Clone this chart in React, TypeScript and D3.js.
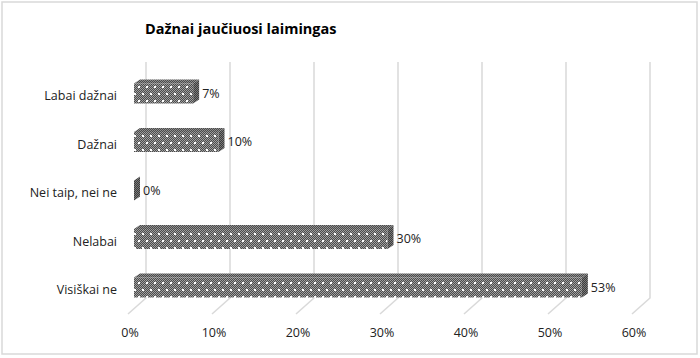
import React from "react";
import * as d3 from "d3";

const categories = ["Labai dažnai", "Dažnai", "Nei taip, nei ne", "Nelabai", "Visiškai ne"];
const values = [7, 10, 0, 30, 53];
const ticks = [0, 10, 20, 30, 40, 50, 60];
const title = "Dažnai jaučiuosi laimingas";

const W = 700;
const H = 358;
const FONT = "'Open Sans', Lato, sans-serif";

export default function App() {
  const xBack = d3.scaleLinear().domain([0, 60]).range([146, 650]);
  const xBar = d3.scaleLinear().domain([0, 60]).range([134, 641]);
  const y = d3.scalePoint<string>().domain(categories).range([93.5, 287.5]);
  const gridTop = 62;
  const gridBottom = 298;
  const fdx = -18;
  const fdy = 16;
  const dx = 6;
  const dy = -4;
  const h = 20;

  const checker = (w: number, hh: number, keyp: string, fill: string) =>
    d3.range(0, w).flatMap((px) =>
      d3.range(0, hh).map((py) =>
        (px + py) % 2 === 0 ? (
          <rect key={`${keyp}${px}-${py}`} x={px} y={py} width={1} height={1} fill={fill} />
        ) : null
      )
    );

  return (
    <svg width={W} height={H} style={{ position: "absolute", left: 0, top: 0 }} fontFamily={FONT}>
      <defs>
        <pattern id="pf" width="8" height="14" patternUnits="userSpaceOnUse">
          <rect width="8" height="14" fill="#4c4c4c" />
          {checker(8, 14, "f", "#a0a0a0")}
          <rect x="2" y="2" width="2" height="2" fill="#ffffff" />
          <rect x="6" y="9" width="2" height="2" fill="#ffffff" />
        </pattern>
        <pattern id="pt" width="4" height="4" patternUnits="userSpaceOnUse">
          <rect width="4" height="4" fill="#4a4a4a" />
          {checker(4, 4, "t", "#8e8e8e")}
        </pattern>
        <pattern id="ps" width="4" height="4" patternUnits="userSpaceOnUse">
          <rect width="4" height="4" fill="#3c3c3c" />
          {checker(4, 4, "s", "#7a7a7a")}
        </pattern>
      </defs>
      <rect x={2} y={2} width={695} height={352} fill="#fff" stroke="#d9d9d9" strokeWidth={1.5} />
      <text x={145} y={34} fontSize={14.5} fontWeight="bold" fill="#000">
        {title}
      </text>
      {ticks.map((t) => {
        const xb = xBack(t);
        return (
          <g key={t}>
            <polyline
              points={`${xb},${gridTop} ${xb},${gridBottom} ${xb + fdx},${gridBottom + fdy}`}
              fill="none"
              stroke="#d9d9d9"
              strokeWidth={1.5}
            />
            <text x={xb + fdx + 2} y={337} fontSize={12.5} textAnchor="middle" fill="#222">
              {`${t}%`}
            </text>
          </g>
        );
      })}
      {categories.map((c, i) => {
        const cy = y(c)!;
        const x0 = xBar(0);
        const x1 = xBar(values[i]);
        const top = cy - h / 2;
        const bot = cy + h / 2;
        return (
          <g key={c}>
            <text x={117} y={cy + 3.5} fontSize={12.5} textAnchor="end" dominantBaseline="middle" fill="#222">
              {c}
            </text>
            {x1 > x0 && <rect x={x0} y={top} width={x1 - x0} height={h} fill="url(#pf)" />}
            <polygon
              points={`${x0},${top} ${x0 + dx},${top + dy} ${x1 + dx},${top + dy} ${x1},${top}`}
              fill="url(#pt)"
            />
            <polygon
              points={`${x1},${top} ${x1 + dx},${top + dy} ${x1 + dx},${bot + dy} ${x1},${bot}`}
              fill="url(#ps)"
            />
            <text x={x1 + dx + 3} y={cy + 1} fontSize={12.5} dominantBaseline="middle" fill="#222">
              {`${values[i]}%`}
            </text>
          </g>
        );
      })}
    </svg>
  );
}
